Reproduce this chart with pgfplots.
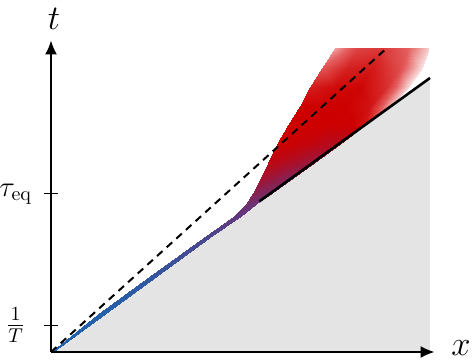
\documentclass[border=0pt]{standalone}
\usepackage{pgfplots}
\pgfplotsset{compat=1.18}
\usetikzlibrary{arrows.meta}
\definecolor{regiongray}{RGB}{228,228,228}
\begin{document}
\begin{tikzpicture}
\begin{axis}[
  anchor=origin, at={(0pt,0pt)},
  x=18.95pt, y=18.95pt,
  xmin=0, xmax=10.12, ymin=0, ymax=8.22,
  enlargelimits=false, clip=false,
  axis on top,
  axis lines=left,
  axis line style={line width=0.8pt, -{Latex[length=7pt,width=6pt]}},
  xtick=\empty,
  ytick={0.71,4.17},
  yticklabels={\raisebox{4.5pt}{$\frac{1}{T}$}, $\tau_{\mathrm{eq}}$},
  tick align=center, major tick length=7pt,
  tick style={black, line width=0.5pt},
  yticklabel style={anchor=center, xshift=-14.2pt, font=\fontsize{14.4}{16}\selectfont},
  xlabel={$x$}, ylabel={$t$},
  every axis x label/.style={at={(axis cs:10.82,0.1)}, anchor=center, font=\LARGE},
  every axis y label/.style={at={(axis cs:0.08,8.79)}, anchor=center, font=\LARGE},
  colormap={bandmap}{rgb255=(30,100,175) rgb255=(100,55,125) rgb255=(150,25,65) rgb255=(205,0,0) rgb255=(228,95,95) rgb255=(255,255,255)},
  point meta min=0, point meta max=5,
]
% shaded region below the solid line
\addplot[fill=regiongray, draw=none] coordinates {(0,0) (10,7.23)} \closedcycle;
% coloured band
\addplot[surf, shader=interp, mesh/cols=5, point meta=\thisrow{c}] table {
x y c
0 0 0
0.015 0 0
0.03 0 0
0.047 0 0
0.06 0 0
1.243 1 0.1
1.286 1 0.1
1.328 1 0.1
1.376 1 0.1
1.413 1 0.1
2.625 2 0.3
2.668 2 0.3
2.710 2 0.3
2.758 2 0.3
2.795 2 0.3
4.008 3 0.65
4.051 3 0.65
4.093 3 0.65
4.141 3 0.65
4.178 3 0.65
4.820 3.6 0.95
4.867 3.6 0.95
4.914 3.6 0.95
4.966 3.6 0.95
5.007 3.6 0.95
5.140 3.9 1.3
5.210 3.9 1.25
5.280 3.9 1.2
5.358 3.9 1.15
5.420 3.9 1.1
5.340 4.2 1.75
5.464 4.2 1.65
5.589 4.2 1.5
5.728 4.2 1.4
5.837 4.2 1.35
5.530 4.6 2.3
5.745 4.6 2.15
5.960 4.6 1.95
6.201 4.6 1.75
6.390 4.6 1.6
5.720 5.0 2.7
6.025 5.0 2.6
6.330 5.0 2.4
6.672 5.0 2.15
6.940 5.0 2.0
5.970 5.5 2.95
6.385 5.5 2.95
6.800 5.5 2.8
7.265 5.5 2.6
7.630 5.5 2.45
6.250 6.0 3.0
6.758 6.0 3.0
7.265 6.0 3.0
7.833 6.0 2.95
8.280 6.0 3.2
6.560 6.5 3.0
7.158 6.5 3.0
7.755 6.5 3.0
8.424 6.5 3.2
8.950 6.5 4.5
6.840 7.0 3.3
7.493 7.0 3.1
8.145 7.0 3.05
8.876 7.0 3.5
9.450 7.0 4.8
7.160 7.5 3.9
7.820 7.5 3.35
8.480 7.5 3.25
9.219 7.5 3.8
9.800 7.5 4.8
7.490 8.02 4.4
8.110 8.02 3.7
8.730 8.02 3.6
9.424 8.02 4.0
9.970 8.02 4.7
};
% solid line
\addplot[black, line width=1.3pt] coordinates {(5.5,3.977) (10,7.23)};
% dashed line
\addplot[black, line width=1pt, dash pattern=on 3.7pt off 2.8pt] coordinates {(0,0) (8.84,8.0)};
\end{axis}
\pgfresetboundingbox
\useasboundingbox (-25.51pt,-4.49pt) rectangle (211.01pt,176.01pt);
\end{tikzpicture}
\end{document}
